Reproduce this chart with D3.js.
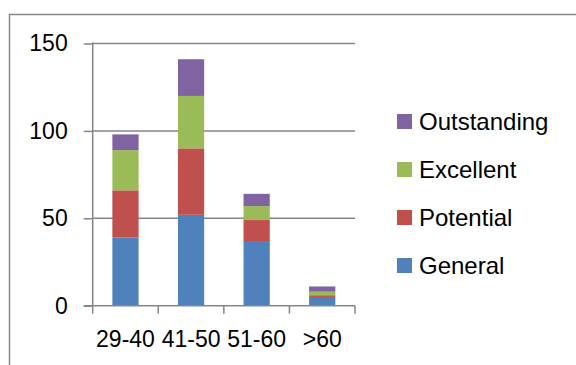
<!DOCTYPE html>
<html><head><meta charset="utf-8">
<script src="https://cdn.jsdelivr.net/npm/d3@7"></script>
<style>body{margin:0;background:#fff}svg{display:block}</style>
</head><body>
<script>
const categories = ["29-40", "41-50", "51-60", ">60"];
const seriesNames = ["General", "Potential", "Excellent", "Outstanding"];
const general = [39, 52, 37, 5];
const potential = [27, 38, 12, 1];
const excellent = [23, 30, 8, 2];
const outstanding = [9, 21, 7, 3];
const yTicks = [0, 50, 100, 150];
const colors = ["#4F81BD", "#C0504D", "#9BBB59", "#8064A2"];

const W = 576, H = 365;
const font = "'Liberation Sans', Arial, sans-serif";
const svg = d3.select("body").append("svg").attr("width", W).attr("height", H);

// chart area border
svg.append("path").attr("d", `M9.5,${H+5} V14.5 H${W+5}`)
  .attr("fill", "none").attr("stroke", "#888").attr("stroke-width", 1.5);

const x0 = 92.7, x1 = 355, yTop = 43.5, yBot = 305.7;
const x = d3.scaleBand().domain(categories).range([x0, x1]).paddingInner(0.6).paddingOuter(0.3);
const xb = d3.scaleBand().domain(categories).range([x0, x1]);
const y = d3.scaleLinear().domain([0, 150]).range([yBot, yTop]);

const rows = categories.map((c, i) => ({cat: c, General: general[i], Potential: potential[i], Excellent: excellent[i], Outstanding: outstanding[i]}));
const stack = d3.stack().keys(seriesNames)(rows);

// gridlines
svg.append("g").selectAll("line").data(yTicks.filter(d => d > 0)).join("line")
  .attr("x1", x0).attr("x2", x1).attr("y1", d => y(d)).attr("y2", d => y(d))
  .attr("stroke", "#868686").attr("stroke-width", 1.5);

// bars
svg.append("g").selectAll("g").data(stack).join("g")
  .attr("fill", (d, i) => colors[i])
  .selectAll("rect").data(d => d).join("rect")
  .attr("x", d => x(d.data.cat)).attr("width", x.bandwidth())
  .attr("y", d => y(d[1])).attr("height", d => y(d[0]) - y(d[1]));

// y axis
const yAxis = svg.append("g").attr("transform", `translate(${x0},0)`)
  .call(d3.axisLeft(y).tickValues(yTicks).tickSize(9).tickPadding(16));
yAxis.select(".domain").remove();
yAxis.selectAll("line").attr("stroke", "#868686").attr("stroke-width", 1.5);
yAxis.selectAll("text").attr("font-family", font).attr("font-size", 23).attr("fill", "#000");
svg.append("line").attr("x1", x0).attr("x2", x0).attr("y1", yTop - 1).attr("y2", yBot)
  .attr("stroke", "#868686").attr("stroke-width", 1.5);

// x axis
svg.append("line").attr("x1", x0 - 9).attr("x2", x1).attr("y1", yBot).attr("y2", yBot)
  .attr("stroke", "#868686").attr("stroke-width", 1.5);
const bounds = categories.map(c => xb(c)).concat([x1]);
svg.append("g").selectAll("line").data(bounds).join("line")
  .attr("x1", d => d).attr("x2", d => d).attr("y1", yBot).attr("y2", yBot + 8)
  .attr("stroke", "#868686").attr("stroke-width", 1.5);
svg.append("g").selectAll("text").data(categories).join("text")
  .attr("x", d => xb(d) + xb.bandwidth() / 2).attr("y", 339).attr("dy", "0.35em")
  .attr("text-anchor", "middle").attr("font-family", font).attr("font-size", 23).text(d => d);

// legend
const legendItems = seriesNames.map((n, i) => ({name: n, color: colors[i]})).reverse();
const lg = svg.append("g").selectAll("g").data(legendItems).join("g")
  .attr("transform", (d, i) => `translate(397,${121.5 + i * 48})`);
lg.append("rect").attr("x", 0).attr("y", -7.5).attr("width", 15).attr("height", 15).attr("fill", d => d.color);
lg.append("text").attr("x", 22).attr("y", 0).attr("dy", "0.35em")
  .attr("font-family", font).attr("font-size", 24).text(d => d.name);
</script>
</body></html>
